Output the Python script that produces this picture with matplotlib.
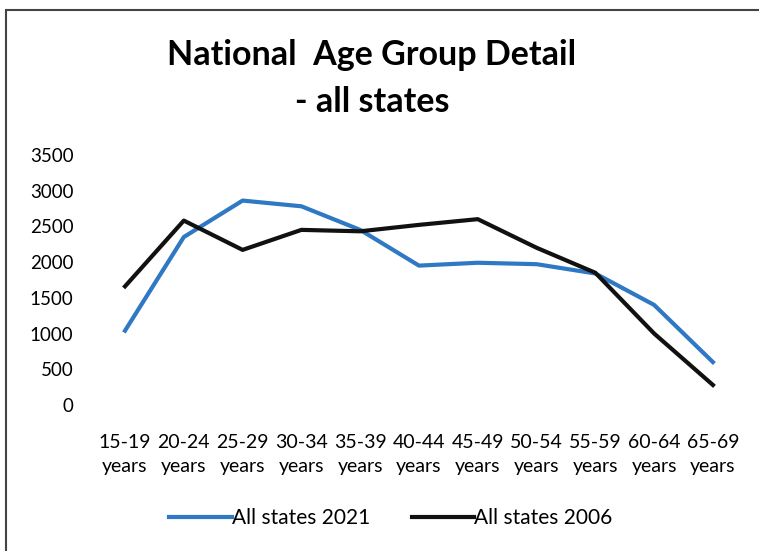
import matplotlib.pyplot as plt
from matplotlib.patches import Rectangle

age_groups = ["15-19", "20-24", "25-29", "30-34", "35-39", "40-44",
              "45-49", "50-54", "55-59", "60-64", "65-69"]
states_2021 = [1040, 2350, 2860, 2780, 2450, 1950, 1990, 1970, 1840, 1400, 600]
states_2006 = [1660, 2580, 2170, 2450, 2430, 2520, 2600, 2200, 1850, 1000, 280]
y_ticks = [0, 500, 1000, 1500, 2000, 2500, 3000, 3500]

plt.rcParams["font.family"] = ["Lato", "DejaVu Sans"]

fig = plt.figure(figsize=(7.59, 5.51), dpi=100)
fig.patches.append(Rectangle((0.008, -0.05), 1.2, 1.032, transform=fig.transFigure,
                             fill=False, edgecolor="#444444", linewidth=1.5))

ax = fig.add_axes([0.126, 0.265, 0.852, 0.454])
x = range(len(age_groups))
ax.plot(x, states_2021, color="#2f78c4", linewidth=3, label="All states 2021")
ax.plot(x, states_2006, color="#111111", linewidth=3, label="All states 2006")

ax.set_xlim(-0.5, len(age_groups) - 0.5)
ax.set_ylim(0, 3500)
ax.set_yticks(y_ticks)
ax.set_xticks(list(x))
ax.set_xticklabels([g + "\nyears" for g in age_groups], fontsize=14, linespacing=1.5)
ax.tick_params(axis="y", labelsize=13.5, length=0, pad=16)
ax.tick_params(axis="x", length=0, pad=21)
for s in ax.spines.values():
    s.set_visible(False)

fig.text(0.49, 0.9, "National  Age Group Detail", ha="center", va="center",
         fontsize=24.5, fontweight="bold")
fig.text(0.49, 0.815, "- all states", ha="center", va="center",
         fontsize=24.5, fontweight="bold")

fig.legend(loc="center", bbox_to_anchor=(0.515, 0.06), ncol=2, frameon=False,
           fontsize=15, handlelength=3.0, handletextpad=0.0, columnspacing=2.0)

fig.savefig("out.png", dpi=100)
